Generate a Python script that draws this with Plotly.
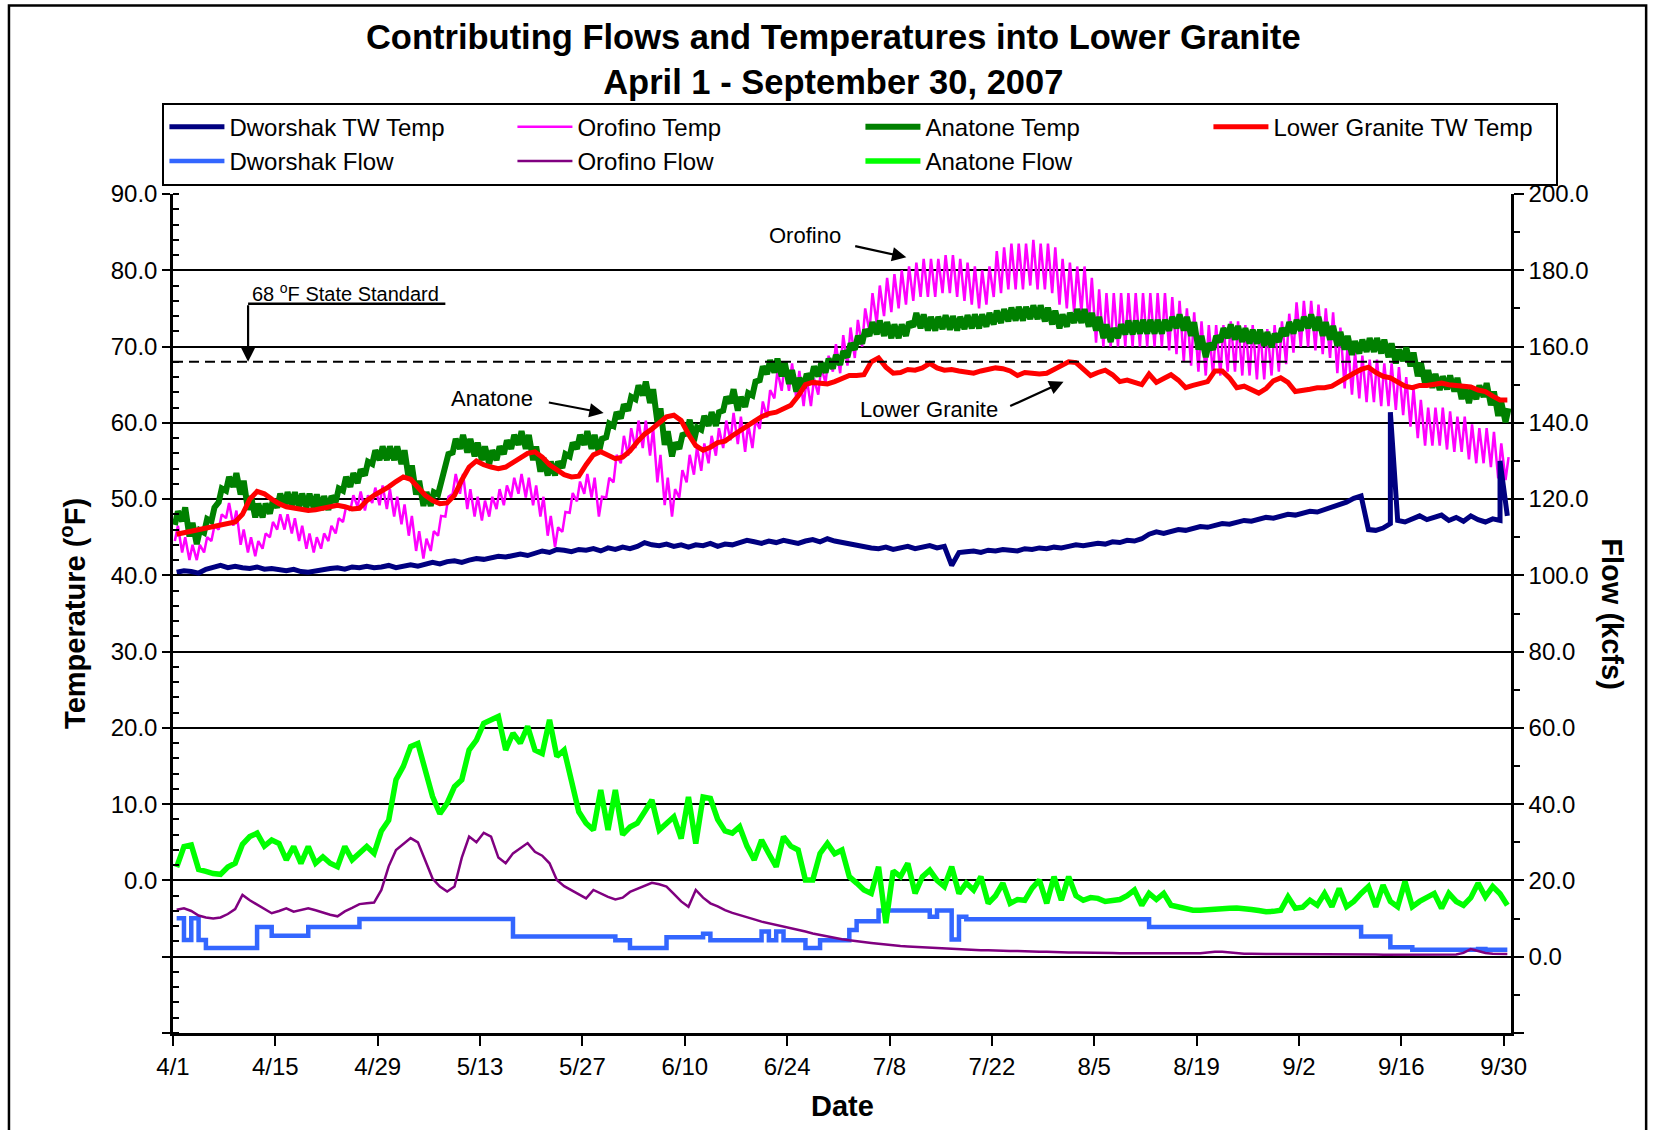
import plotly.graph_objects as go
from datetime import datetime, timedelta

START = datetime(2007, 4, 1)

# ---------------- data ----------------
# daily values 4/1 .. 9/30 (183 days), one row per week

dworshak_temp = [
    40.4, 40.6, 40.5, 40.3, 40.8, 41.1, 41.3,
    41.0, 41.2, 41.0, 40.9, 41.1, 40.8, 40.9,
    40.7, 40.6, 40.8, 40.5, 40.4, 40.6, 40.8,
    40.9, 41.0, 40.8, 41.1, 41.0, 41.2, 41.0,
    41.1, 41.3, 41.0, 41.2, 41.4, 41.2, 41.5,
    41.7, 41.5, 41.8, 41.9, 41.7, 42.0, 42.2,
    42.1, 42.3, 42.5, 42.4, 42.6, 42.8, 42.6,
    42.9, 43.2, 43.0, 43.4, 43.3, 43.1, 43.4,
    43.3, 43.5, 43.2, 43.6, 43.4, 43.7, 43.5,
    43.8, 44.3, 44.0, 43.9, 44.1, 43.8, 44.0,
    43.7, 44.0, 43.9, 44.2, 43.8, 44.1, 44.0,
    44.3, 44.6, 44.4, 44.2, 44.5, 44.3, 44.6,
    44.4, 44.2, 44.5, 44.7, 44.4, 44.8, 44.5,
    44.3, 44.1, 44.0, 43.8, 43.6, 43.5, 43.7,
    43.4, 43.6, 43.8, 43.5, 43.7, 43.9, 43.6,
    43.8, 41.3, 43.0, 43.1, 43.2, 43.0, 43.3,
    43.2, 43.4, 43.3, 43.2, 43.5, 43.4, 43.6,
    43.5, 43.7, 43.6, 43.8, 44.0, 43.9, 44.1,
    44.2, 44.1, 44.4, 44.3, 44.6, 44.5, 44.8,
    45.4, 45.7, 45.5, 45.8, 46.0, 45.9, 46.2,
    46.4, 46.3, 46.6, 46.8, 46.7, 47.0, 47.2,
    47.1, 47.4, 47.6, 47.5, 47.8, 48.0, 47.9,
    48.2, 48.4, 48.3, 48.6, 48.9, 49.3, 49.6,
    50.1, 50.4, 46.0, 45.9, 46.2, 46.8, 47.2,
    47.0, 47.4, 47.8, 47.3, 47.6, 47.9, 47.2,
    47.6, 47.1, 47.8, 47.3, 47.0, 47.4, 47.2,
    47.8,
]
# short spikes in the Dworshak tailwater record
dworshak_spike_times = ["2007-09-14 12:00", "2007-09-29 12:00"]
dworshak_spike_values = [61.4, 55.0]

lower_granite_temp = [
    45.4, 45.6, 45.8, 46.0, 46.3, 46.5, 46.6,
    46.8, 47.0, 48.0, 50.0, 51.0, 50.7, 50.0,
    49.4, 49.0, 48.8, 48.6, 48.5, 48.6, 48.8,
    49.1, 49.2, 49.0, 48.7, 48.8, 49.8, 50.5,
    51.0, 51.6, 52.3, 52.9, 52.6, 51.5, 50.5,
    49.8, 49.4, 49.5, 50.5, 52.5, 54.2, 55.0,
    54.5, 54.2, 54.0, 54.2, 54.8, 55.5, 56.0,
    56.2, 55.5, 54.5, 53.8, 53.2, 52.9, 53.0,
    54.5, 55.8, 56.2, 55.8, 55.3, 55.5, 56.3,
    57.5, 58.5, 59.2, 60.0, 60.8, 61.0, 60.3,
    58.5, 57.0, 56.4, 56.8, 57.4, 57.6, 58.3,
    59.0, 59.6, 60.2, 60.8, 61.2, 61.4, 61.8,
    62.3, 63.5, 65.0, 65.3, 65.2, 65.1, 65.4,
    65.8, 66.2, 66.2, 66.3, 68.0, 68.5, 67.3,
    66.5, 66.6, 67.0, 66.9, 67.2, 67.8, 67.2,
    66.9, 67.0, 66.8, 66.7, 66.5, 66.8, 67.0,
    67.2, 67.1, 66.8, 66.2, 66.6, 66.5, 66.4,
    66.5, 67.0, 67.6, 68.0, 67.9, 67.0, 66.2,
    66.6, 66.9, 66.3, 65.4, 65.6, 65.3, 65.0,
    66.4, 65.3, 65.8, 66.3, 65.6, 64.6, 64.9,
    65.2, 65.4, 66.8, 66.8, 65.9, 64.6, 64.8,
    64.3, 63.9, 64.5, 65.5, 65.9, 65.3, 64.1,
    64.2, 64.4, 64.6, 64.6, 64.8, 65.4, 66.0,
    66.5, 67.0, 67.3, 66.6, 66.1, 65.9, 65.4,
    64.8, 64.6, 64.9, 64.9, 65.1, 65.2, 65.0,
    64.9, 64.8, 64.7, 64.3, 64.1, 63.5, 63.0,
    63.0,
]

# daily high / low (diurnal swing)
orofino_temp_high = [
    46.5, 45.0, 44.0, 44.0, 45.0, 46.5, 48.0,
    49.5, 48.5, 46.0, 45.0, 44.5, 45.5, 47.0,
    48.0, 48.0, 47.5, 46.5, 45.5, 45.0, 45.5,
    46.5, 47.5, 49.0, 50.5, 51.0, 50.5, 51.5,
    51.8, 51.3, 50.3, 49.3, 47.8, 45.8, 44.8,
    45.8, 47.8, 50.3, 53.3, 53.3, 51.3, 50.3,
    49.8, 50.3, 51.3, 51.8, 52.8, 53.3, 52.8,
    51.8, 50.3, 47.8, 46.3, 48.3, 50.8, 52.3,
    53.3, 52.8, 50.3, 52.8, 55.8, 58.3, 59.3,
    60.3, 60.3, 59.3, 55.8, 52.8, 51.3, 53.8,
    55.8, 56.8, 57.3, 58.3, 59.3, 60.3, 61.3,
    60.8, 59.8, 60.3, 62.8, 64.3, 66.8, 67.8,
    67.8, 66.8, 65.8, 65.8, 67.3, 68.8, 70.3,
    71.5, 72.5, 73.5, 75.0, 77.0, 78.0, 79.0,
    79.5, 80.0, 80.5, 81.0, 81.5, 81.5, 81.5,
    82.0, 82.0, 81.5, 81.0, 80.5, 80.0, 80.5,
    82.5, 83.0, 83.5, 83.5, 83.5, 84.0, 83.5,
    83.5, 83.0, 81.5, 81.0, 80.5, 80.5, 79.0,
    77.5, 77.0, 77.0, 77.0, 77.0, 77.0, 77.0,
    77.0, 77.0, 77.0, 76.5, 76.0, 75.0, 74.5,
    73.3, 72.8, 72.8, 72.8, 73.3, 73.3, 72.8,
    72.8, 72.3, 72.3, 72.8, 73.3, 74.3, 75.8,
    76.0, 76.0, 75.5, 75.0, 74.5, 72.5, 70.5,
    69.3, 68.8, 68.3, 68.3, 67.8, 67.8, 67.3,
    66.0, 64.5, 63.0, 62.0, 62.0, 62.0, 61.5,
    60.8, 60.8, 59.8, 59.3, 59.3, 58.8, 57.3,
    55.5,
]
orofino_temp_low = [
    44.5, 43.0, 42.0, 42.0, 43.0, 44.5, 46.0,
    47.5, 46.5, 44.0, 43.0, 42.5, 43.5, 45.0,
    46.0, 46.0, 45.5, 44.5, 43.5, 43.0, 43.5,
    44.5, 45.5, 47.0, 48.5, 49.0, 48.5, 49.5,
    49.2, 48.7, 47.7, 46.7, 45.2, 43.2, 42.2,
    43.2, 45.2, 47.7, 50.7, 50.7, 48.7, 47.7,
    47.2, 47.7, 48.7, 49.2, 50.2, 50.7, 50.2,
    49.2, 47.7, 45.2, 43.7, 45.7, 48.2, 49.7,
    50.7, 50.2, 47.7, 50.2, 52.2, 54.7, 55.7,
    56.7, 56.7, 55.7, 52.2, 49.2, 47.7, 50.2,
    52.2, 53.2, 53.7, 54.7, 55.7, 56.7, 57.7,
    57.2, 56.2, 56.7, 59.2, 60.7, 63.2, 64.2,
    64.2, 63.2, 62.2, 62.2, 63.7, 65.2, 66.7,
    66.5, 67.5, 68.5, 70.0, 72.0, 73.0, 74.0,
    74.5, 75.0, 75.5, 76.0, 76.5, 76.5, 76.5,
    77.0, 77.0, 76.5, 76.0, 75.5, 75.0, 75.5,
    76.5, 77.0, 77.5, 77.5, 77.5, 78.0, 77.5,
    77.5, 77.0, 75.5, 75.0, 74.5, 74.5, 73.0,
    70.5, 70.0, 70.0, 70.0, 70.0, 70.0, 70.0,
    70.0, 70.0, 70.0, 69.5, 69.0, 68.0, 67.5,
    66.7, 66.2, 66.2, 66.2, 66.7, 66.7, 66.2,
    66.2, 65.7, 65.7, 66.2, 66.7, 67.7, 69.2,
    70.0, 70.0, 69.5, 69.0, 68.5, 66.5, 64.5,
    63.7, 63.2, 62.7, 62.7, 62.2, 62.2, 61.7,
    61.0, 59.5, 58.0, 57.0, 57.0, 57.0, 56.5,
    56.2, 56.2, 55.2, 54.7, 54.7, 54.2, 52.7,
    52.5,
]

anatone_temp_high = [
    48.4, 48.9, 46.9, 45.9, 47.4, 48.9, 51.4,
    52.9, 53.4, 52.4, 50.4, 49.4, 49.4, 49.9,
    50.7, 50.9, 50.9, 50.7, 50.7, 50.6, 50.4,
    50.4, 51.4, 52.9, 53.4, 53.9, 54.9, 56.4,
    56.9, 56.9, 56.9, 56.4, 54.4, 52.4, 50.9,
    50.9, 52.4, 55.9, 57.9, 58.4, 57.9, 57.4,
    56.9, 56.4, 56.9, 57.7, 58.4, 58.9, 58.4,
    56.9, 55.4, 54.9, 54.9, 55.9, 57.4, 58.4,
    58.9, 58.4, 57.9, 59.9, 61.4, 62.4, 63.4,
    64.9, 65.4, 64.4, 61.9, 58.9, 57.4, 58.4,
    60.4, 59.4, 60.9, 61.4, 61.4, 63.4, 64.4,
    63.4, 63.9, 65.4, 67.4, 68.2, 68.4, 67.9,
    66.9, 65.9, 66.4, 67.4, 67.9, 68.4, 68.9,
    69.4, 70.4, 71.4, 72.2, 73.2, 73.4, 73.2,
    72.9, 72.9, 73.2, 74.4, 74.2, 73.9, 73.9,
    74.1, 74.0, 73.9, 74.1, 74.2, 74.2, 74.4,
    74.7, 74.9, 75.1, 75.2, 75.2, 75.4, 75.4,
    75.1, 74.7, 74.2, 74.4, 74.9, 74.9, 74.4,
    73.9, 72.9, 72.4, 72.9, 73.4, 73.4, 73.5,
    73.5, 73.5, 73.5, 73.9, 74.2, 73.9, 73.2,
    71.4, 70.4, 71.4, 72.4, 72.9, 72.7, 72.4,
    72.2, 72.2, 71.9, 71.7, 72.4, 73.2, 73.5,
    73.9, 74.2, 73.9, 73.2, 72.7, 71.9, 71.4,
    70.7, 70.9, 71.1, 71.1, 70.9, 70.4, 69.6,
    69.9, 69.2, 67.9, 66.9, 66.4, 66.1, 66.2,
    65.9, 64.9, 64.4, 64.9, 65.2, 64.1, 62.7,
    61.9,
]
anatone_temp_low = [
    46.6, 47.1, 45.1, 44.1, 45.6, 47.1, 49.6,
    51.1, 51.6, 50.6, 48.6, 47.6, 47.6, 48.1,
    48.9, 49.1, 49.1, 48.9, 48.9, 48.8, 48.6,
    48.6, 49.6, 51.1, 51.6, 52.1, 53.1, 54.6,
    55.1, 55.1, 55.1, 54.6, 52.6, 50.6, 49.1,
    49.1, 50.6, 54.1, 56.1, 56.6, 56.1, 55.6,
    55.1, 54.6, 55.1, 55.9, 56.6, 57.1, 56.6,
    55.1, 53.6, 53.1, 53.1, 54.1, 55.6, 56.6,
    57.1, 56.6, 56.1, 58.1, 59.6, 60.6, 61.6,
    63.1, 63.6, 62.6, 60.1, 57.1, 55.6, 56.6,
    58.6, 57.6, 59.1, 59.6, 59.6, 61.6, 62.6,
    61.6, 62.1, 63.6, 65.6, 66.4, 66.6, 66.1,
    65.1, 64.1, 64.6, 65.6, 66.1, 66.6, 67.1,
    67.6, 68.6, 69.6, 70.4, 71.4, 71.6, 71.4,
    71.1, 71.1, 71.4, 72.6, 72.4, 72.1, 72.1,
    72.3, 72.2, 72.1, 72.3, 72.4, 72.4, 72.6,
    72.9, 73.1, 73.3, 73.4, 73.4, 73.6, 73.6,
    73.3, 72.9, 72.4, 72.6, 73.1, 73.1, 72.6,
    72.1, 71.1, 70.6, 71.1, 71.6, 71.6, 71.7,
    71.7, 71.7, 71.7, 72.1, 72.4, 72.1, 71.4,
    69.6, 68.6, 69.6, 70.6, 71.1, 70.9, 70.6,
    70.4, 70.4, 70.1, 69.9, 70.6, 71.4, 71.7,
    72.1, 72.4, 72.1, 71.4, 70.9, 70.1, 69.6,
    68.9, 69.1, 69.3, 69.3, 69.1, 68.6, 67.8,
    68.1, 67.4, 66.1, 65.1, 64.6, 64.3, 64.4,
    64.1, 63.1, 62.6, 63.1, 63.4, 62.3, 60.9,
    60.1,
]

# flows, kcfs (right axis)
dworshak_flow = [
    10.1, 4.4, 10.1, 4.4, 2.3, 2.3, 2.3,
    2.3, 2.3, 2.3, 2.3, 7.8, 7.8, 5.5,
    5.5, 5.5, 5.5, 5.5, 7.8, 7.8, 7.8,
    7.8, 7.8, 7.8, 7.8, 9.9, 9.9, 9.9,
    9.9, 9.9, 9.9, 9.9, 9.9, 9.9, 9.9,
    9.9, 9.9, 9.9, 9.9, 9.9, 9.9, 9.9,
    9.9, 9.9, 9.9, 9.9, 5.3, 5.3, 5.3,
    5.3, 5.3, 5.3, 5.3, 5.3, 5.3, 5.3,
    5.3, 5.3, 5.3, 5.3, 4.3, 4.3, 2.3,
    2.3, 2.3, 2.3, 2.3, 5.1, 5.1, 5.1,
    5.1, 5.1, 6.0, 4.3, 4.3, 4.3, 4.3,
    4.3, 4.3, 4.3, 6.6, 4.3, 6.6, 4.3,
    4.3, 4.3, 2.3, 2.3, 4.3, 4.3, 4.3,
    4.3, 7.0, 9.3, 9.3, 9.3, 12.1, 12.1,
    12.1, 12.1, 12.1, 12.1, 12.1, 10.5, 12.1,
    12.1, 4.5, 10.5, 9.8, 9.8, 9.8, 9.8,
    9.8, 9.8, 9.8, 9.8, 9.8, 9.8, 9.8,
    9.8, 9.8, 9.8, 9.8, 9.8, 9.8, 9.8,
    9.8, 9.8, 9.8, 9.8, 9.8, 9.8, 9.8,
    7.8, 7.8, 7.8, 7.8, 7.8, 7.8, 7.8,
    7.8, 7.8, 7.8, 7.8, 7.8, 7.8, 7.8,
    7.8, 7.8, 7.8, 7.8, 7.8, 7.8, 7.8,
    7.8, 7.8, 7.8, 7.8, 7.8, 7.8, 7.8,
    7.8, 5.3, 5.3, 5.3, 5.3, 2.5, 2.5,
    2.5, 1.8, 1.8, 1.8, 1.8, 1.8, 1.8,
    1.8, 1.8, 1.8, 2.0, 1.8, 1.8, 1.8,
    1.8,
]

orofino_flow = [
    12.3, 12.7, 12.0, 10.8, 10.3, 10.0, 10.3,
    11.2, 12.5, 16.2, 14.8, 13.6, 12.5, 11.4,
    12.0, 12.7, 11.8, 12.2, 12.7, 12.2, 11.5,
    11.0, 10.6, 11.9, 12.8, 13.8, 14.0, 14.2,
    17.5, 23.7, 28.0, 29.5, 31.1, 30.0, 25.3,
    20.5, 18.4, 17.1, 18.4, 26.0, 31.5, 30.0,
    32.5, 31.5, 26.0, 24.5, 27.1, 28.5, 29.8,
    27.5, 26.5, 24.5, 20.1, 18.5, 17.5, 16.3,
    15.3, 17.5, 16.5, 15.7, 15.0, 15.5, 17.0,
    17.8, 18.5, 19.4, 19.0, 18.4, 16.5, 14.5,
    13.1, 17.5, 15.5, 14.0, 13.2, 12.2, 11.5,
    11.0, 10.5, 9.8, 9.2, 8.8, 8.4, 8.0,
    7.6, 7.1, 6.6, 6.1, 5.7, 5.3, 4.9,
    4.6, 4.3, 4.0, 3.8, 3.6, 3.4, 3.2,
    2.9, 2.8, 2.7, 2.6, 2.5, 2.4, 2.2,
    2.2, 2.1, 2.0, 1.9, 1.8, 1.7, 1.7,
    1.6, 1.6, 1.5, 1.5, 1.4, 1.4, 1.3,
    1.3, 1.2, 1.2, 1.1, 1.1, 1.1, 1.0,
    1.0, 1.0, 1.0, 0.9, 0.9, 0.9, 0.9,
    0.9, 0.8, 0.8, 0.8, 0.8, 0.8, 0.8,
    0.9, 1.1, 1.3, 1.3, 1.1, 0.9, 0.8,
    0.8, 0.7, 0.7, 0.7, 0.7, 0.7, 0.7,
    0.7, 0.7, 0.6, 0.6, 0.6, 0.6, 0.6,
    0.6, 0.6, 0.6, 0.6, 0.5, 0.5, 0.5,
    0.5, 0.5, 0.5, 0.5, 0.5, 0.5, 0.5,
    0.6, 1.0, 2.0, 1.5, 1.0, 0.8, 0.7,
    0.7,
]

anatone_flow = [
    23.5, 28.9, 29.3, 22.9, 22.4, 21.8, 21.6,
    23.5, 24.5, 29.5, 31.5, 32.4, 29.0, 30.6,
    29.7, 25.4, 28.9, 24.5, 28.9, 24.5, 26.2,
    24.5, 23.6, 28.9, 25.4, 27.0, 28.9, 27.1,
    33.0, 35.8, 46.4, 49.9, 55.1, 55.9, 48.5,
    42.0, 37.5, 40.3, 44.6, 46.4, 54.2, 56.8,
    61.2, 62.1, 63.0, 54.2, 58.6, 56.0, 60.4,
    54.2, 53.3, 62.1, 52.5, 54.2, 45.5, 38.0,
    35.0, 33.2, 43.7, 33.2, 43.7, 32.0, 34.0,
    35.0, 38.0, 41.1, 33.2, 35.0, 36.7, 31.0,
    41.9, 29.7, 41.9, 41.5, 36.0, 33.0, 32.4,
    34.1, 29.0, 25.4, 30.6, 27.0, 23.6, 31.5,
    29.0, 28.0, 20.1, 20.1, 27.1, 29.7, 27.0,
    28.0, 21.0, 19.3, 17.5, 16.6, 23.6, 8.8,
    22.5, 21.0, 24.5, 16.6, 21.0, 22.7, 20.0,
    18.4, 23.6, 16.6, 19.3, 17.5, 21.0, 14.0,
    16.0, 19.3, 14.0, 15.0, 14.8, 18.0, 20.1,
    14.0, 21.0, 14.8, 21.0, 16.0, 14.8, 15.5,
    15.3, 14.5, 14.8, 15.0, 16.0, 17.5, 13.5,
    16.6, 15.0, 16.6, 13.5, 13.0, 12.5, 12.2,
    12.2, 12.4, 12.5, 12.6, 12.7, 12.8, 12.7,
    12.4, 12.1, 11.8, 11.9, 12.2, 15.7, 12.7,
    13.0, 14.8, 13.5, 16.6, 13.1, 17.9, 13.1,
    14.5, 16.6, 18.4, 13.1, 18.8, 14.5, 13.1,
    19.7, 13.1, 14.5, 15.5, 16.6, 12.7, 16.6,
    14.5, 13.5, 15.5, 19.3, 15.7, 18.4, 16.5,
    13.5,
]

x_tick_step_days = 14

# ---------------- helpers ----------------
FONT = "Liberation Sans, Arial, sans-serif"


def day(d):
    return START + timedelta(days=d)


n = len(lower_granite_temp)
daily_x = [day(i + 0.5) for i in range(n)]


def diurnal(low, high):
    xs, ys = [], []
    for i, (lo, hi) in enumerate(zip(low, high)):
        xs += [day(i + 0.25), day(i + 0.67)]
        ys += [lo, hi]
    return xs, ys


oro_x, oro_y = diurnal(orofino_temp_low, orofino_temp_high)
ana_x, ana_y = diurnal(anatone_temp_low, anatone_temp_high)

dw_pts = list(zip(daily_x, dworshak_temp)) + [
    (datetime.strptime(t, "%Y-%m-%d %H:%M"), v)
    for t, v in zip(dworshak_spike_times, dworshak_spike_values)
]
dw_pts.sort(key=lambda p: p[0])
dw_x = [p[0] for p in dw_pts]
dw_y = [p[1] for p in dw_pts]

fig = go.Figure()

# temperatures (left axis)
fig.add_trace(go.Scatter(x=oro_x, y=oro_y, name="Orofino Temp", mode="lines",
                         line=dict(color="#FF00FF", width=2.5), legendrank=2))
fig.add_trace(go.Scatter(x=ana_x, y=ana_y, name="Anatone Temp", mode="lines",
                         line=dict(color="#008000", width=6), legendrank=3))
fig.add_trace(go.Scatter(x=daily_x, y=lower_granite_temp, name="Lower Granite TW Temp",
                         mode="lines", line=dict(color="#FF0000", width=5), legendrank=4))
fig.add_trace(go.Scatter(x=dw_x, y=dw_y, name="Dworshak TW Temp", mode="lines",
                         line=dict(color="#000080", width=5), legendrank=1))
# flows (right axis)
fig.add_trace(go.Scatter(x=daily_x, y=dworshak_flow, name="Dworshak Flow", mode="lines",
                         line=dict(color="#3366FF", width=4.5, shape="hv"),
                         yaxis="y2", legendrank=5))
fig.add_trace(go.Scatter(x=daily_x, y=orofino_flow, name="Orofino Flow", mode="lines",
                         line=dict(color="#800080", width=2.5), yaxis="y2", legendrank=6))
fig.add_trace(go.Scatter(x=daily_x, y=anatone_flow, name="Anatone Flow", mode="lines",
                         line=dict(color="#00FF00", width=5.5), yaxis="y2", legendrank=7))

tick_font = dict(family=FONT, size=24, color="black")
hide_negative = {"-10.0": "", "\u221210.0": "", "-20.0": "", "\u221220.0": ""}

fig.update_layout(
    width=1660, height=1130,
    margin=dict(l=173, r=149, t=194, b=97),
    paper_bgcolor="white", plot_bgcolor="white",
    font=dict(family=FONT, color="black"),
    title=dict(
        text="<b>Contributing Flows and Temperatures into Lower Granite</b><br>"
             "<b>April 1 - September 30, 2007</b>",
        x=0.502, xanchor="center", xref="container",
        y=0.9566, yanchor="top", yref="container",
        font=dict(family=FONT, size=34.5, color="black"),
    ),
    showlegend=True,
    legend=dict(
        orientation="h", x=-0.0079, xanchor="left", y=1.1089, yanchor="top",
        bordercolor="black", borderwidth=2, bgcolor="rgba(0,0,0,0)",
        font=dict(family=FONT, size=24, color="black"),
        entrywidth=278, entrywidthmode="pixels", itemwidth=55,
        traceorder="normal",
    ),
    xaxis=dict(
        type="date", range=[day(0), day(183)],
        tick0=day(0), dtick=x_tick_step_days * 86400000, tickformat="%-m/%-d",
        ticks="outside", ticklen=10, tickwidth=1.5, tickcolor="black",
        showline=True, linecolor="black", linewidth=3, showgrid=False,
        zeroline=False, tickfont=tick_font,
    ),
    yaxis=dict(
        range=[-20, 90], tick0=0, dtick=10, tickformat=".1f",
        labelalias=hide_negative,
        ticks="outside", ticklen=8, tickwidth=1.5, tickcolor="black",
        minor=dict(dtick=2, ticks="inside", ticklen=6, tickwidth=1.5,
                   tickcolor="black", showgrid=False),
        showline=True, linecolor="black", linewidth=2.5,
        showgrid=True, gridcolor="black", gridwidth=2, zeroline=False,
        tickfont=tick_font,
    ),
    yaxis2=dict(
        range=[-20, 200], tick0=0, dtick=20, tickformat=".1f",
        labelalias=hide_negative,
        overlaying="y", side="right",
        ticks="outside", ticklen=10, tickwidth=1.5, tickcolor="black",
        minor=dict(dtick=10, ticks="outside", ticklen=6, tickwidth=1.5,
                   tickcolor="black", showgrid=False),
        showline=True, linecolor="black", linewidth=2.5,
        showgrid=False, zeroline=False, tickfont=tick_font,
    ),
)

# 68 F standard line
fig.add_shape(type="line", xref="paper", x0=0, x1=1, yref="y", y0=68, y1=68,
              line=dict(color="black", width=2, dash="10px,6px"), layer="above")
# leader for the standard label
fig.add_shape(type="line", xref="x", yref="y", x0=day(10.27), x1=day(37.25),
              y0=75.6, y1=75.6, line=dict(color="black", width=2.5))
# outer frame
fig.add_shape(type="rect", xref="paper", yref="paper", x0=-0.1226, x1=1.1010,
              y0=-0.2, y1=1.2247, line=dict(color="black", width=2.5), layer="below")

ann_font = dict(family=FONT, size=22, color="black")


def arrow(tail_d, tail_t, head_d, head_t):
    fig.add_annotation(x=day(head_d), y=head_t, ax=day(tail_d), ay=tail_t,
                       xref="x", yref="y", axref="x", ayref="y", text="",
                       showarrow=True, arrowhead=2, arrowsize=1.3, arrowwidth=2.2,
                       arrowcolor="black", standoff=0)


fig.add_annotation(x=day(23.6), y=77.1, xref="x", yref="y", showarrow=False,
                   text="68 <sup>o</sup>F State Standard",
                   font=dict(family=FONT, size=20, color="black"))
arrow(10.27, 75.6, 10.27, 68.0)

fig.add_annotation(x=day(43.6), y=63.2, xref="x", yref="y", showarrow=False,
                   text="Anatone", font=ann_font)
arrow(51.2, 62.7, 58.9, 61.3)

fig.add_annotation(x=day(86.4), y=84.6, xref="x", yref="y", showarrow=False,
                   text="Orofino", font=ann_font)
arrow(93.1, 83.2, 100.3, 81.7)

fig.add_annotation(x=day(103.4), y=61.7, xref="x", yref="y", showarrow=False,
                   text="Lower Granite", font=ann_font)
arrow(114.3, 62.1, 121.8, 65.4)

# axis titles
title_font = dict(family=FONT, size=29, color="black")
fig.add_annotation(x=-0.0752, y=0.5, xref="paper", yref="paper", showarrow=False,
                   xanchor="center", yanchor="middle",
                   text="<b>Temperature (<sup>o</sup>F)</b>", textangle=-90, font=title_font)
fig.add_annotation(x=1.0756, y=0.5, xref="paper", yref="paper", showarrow=False,
                   xanchor="center", yanchor="middle",
                   text="<b>Flow (kcfs)</b>", textangle=90, font=title_font)
fig.add_annotation(x=0.5007, y=-0.0866, xref="paper", yref="paper", showarrow=False,
                   xanchor="center", yanchor="middle",
                   text="<b>Date</b>", font=title_font)

fig.write_html("out.html", config={"displayModeBar": False},
               post_script="document.body.style.margin='0';")
